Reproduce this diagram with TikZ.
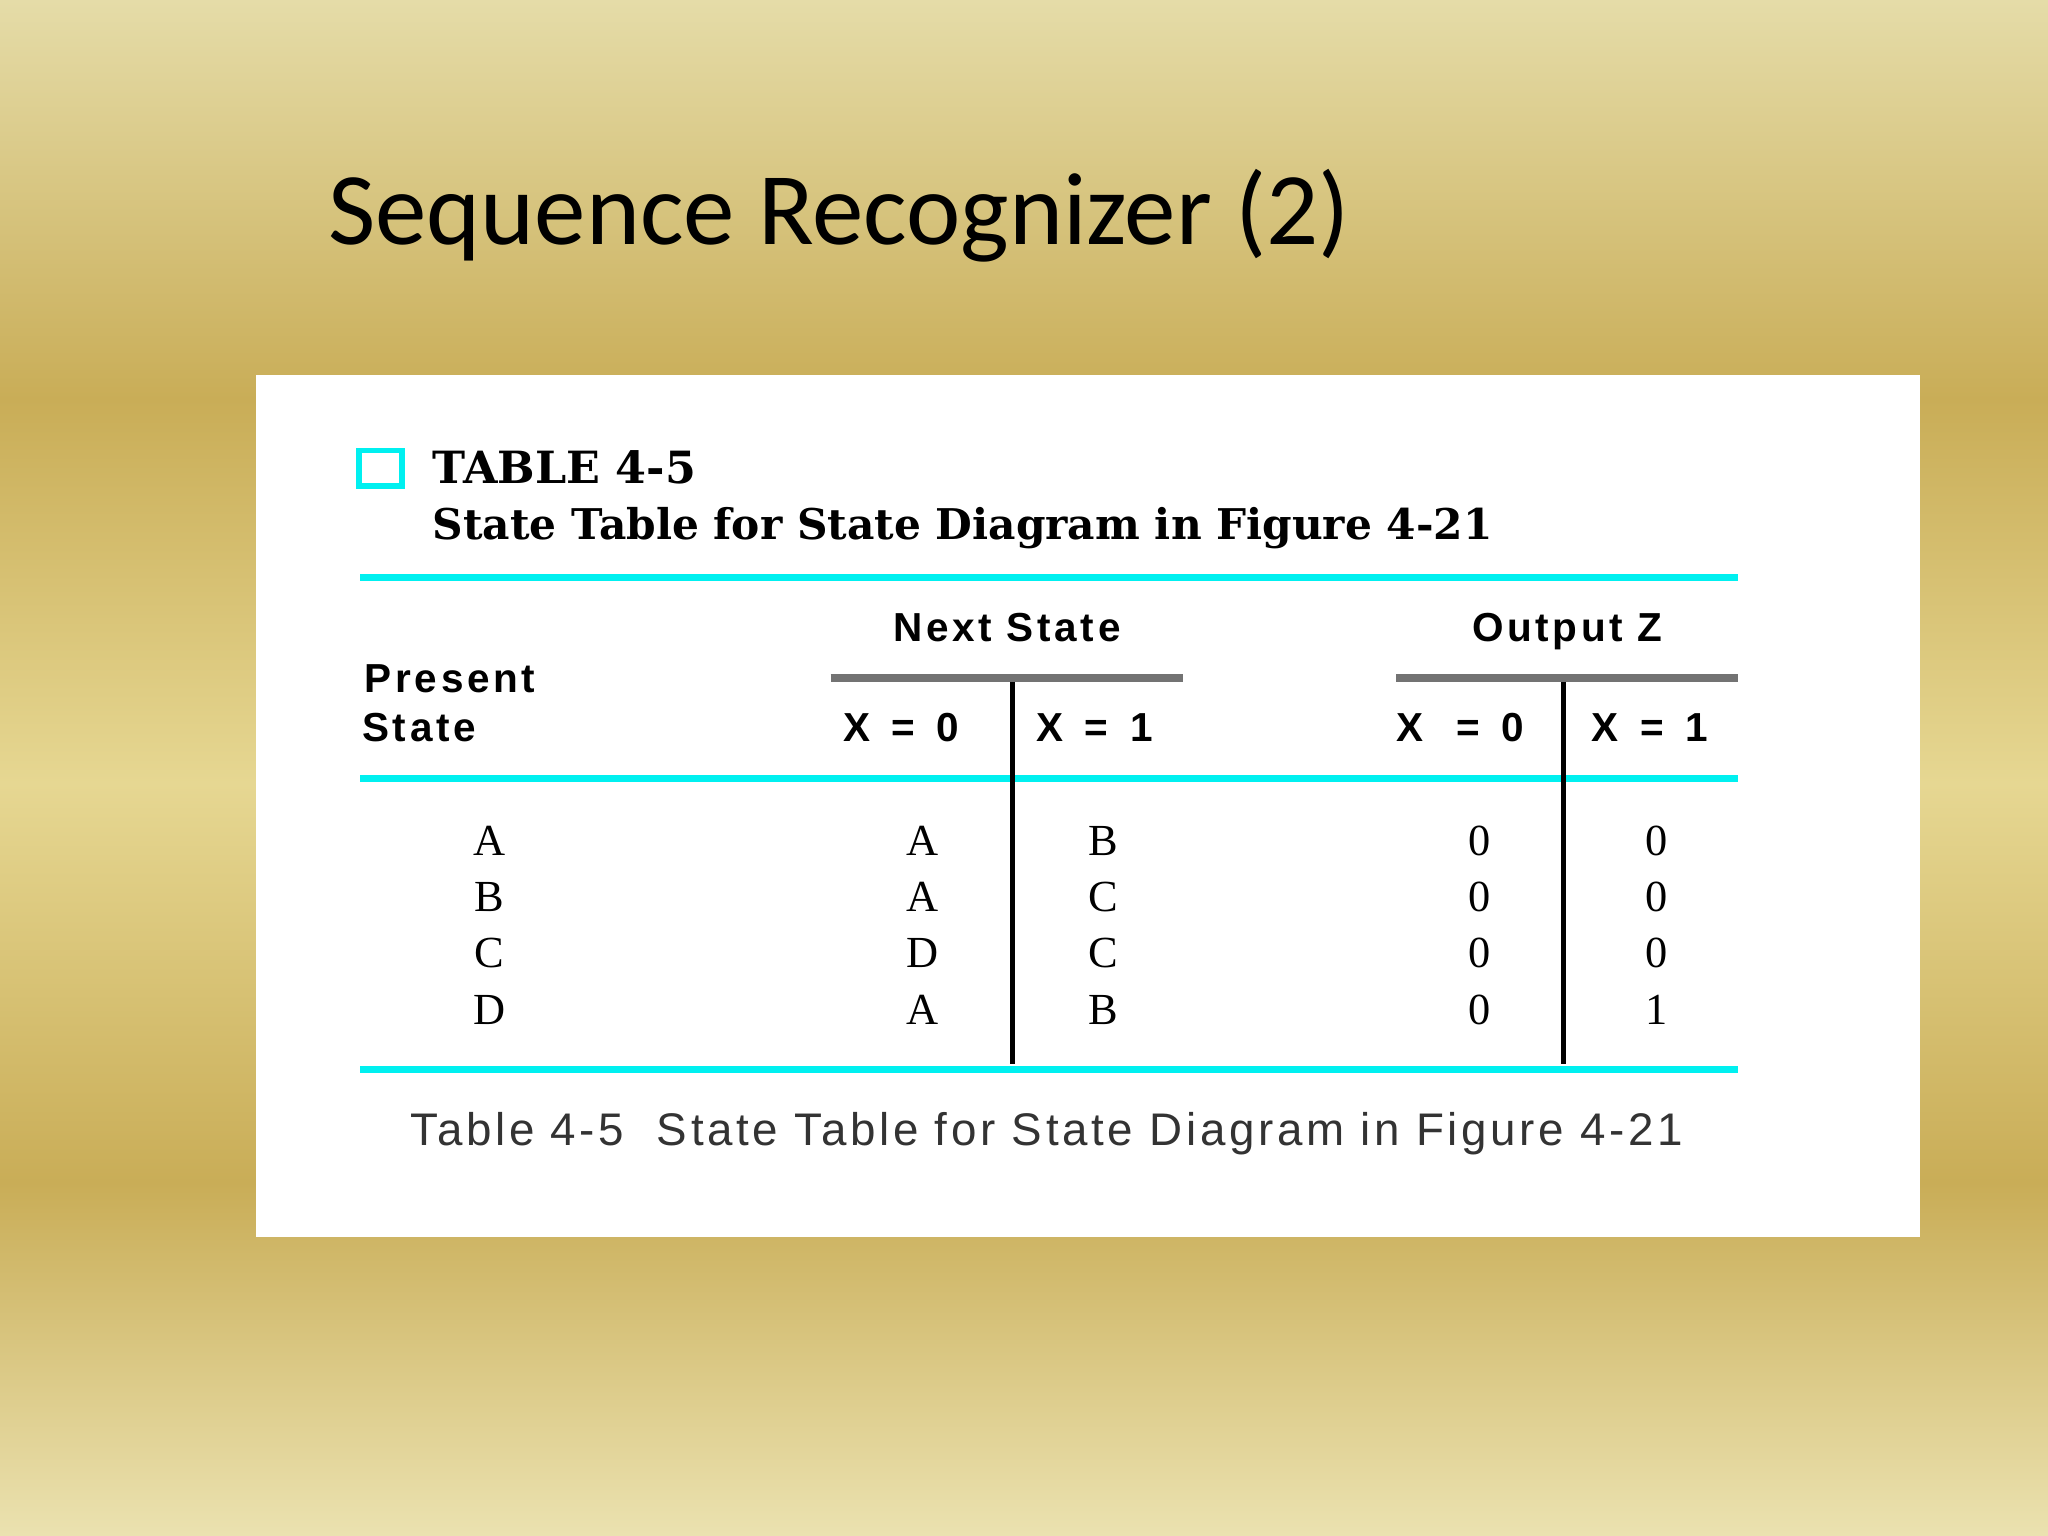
\documentclass[tikz,border=0pt]{standalone}
\usepackage{fontspec}
\setmainfont{Liberation Serif}
\newfontfamily\titlefont{Carlito}
\newfontfamily\hfont[LetterSpace=9]{Liberation Sans}
\newfontfamily\cfont[LetterSpace=8]{Liberation Sans}
\newfontfamily\tfont{DejaVu Serif}
\definecolor{g1}{HTML}{EBE2B0}
\definecolor{g2}{HTML}{C9AD57}
\definecolor{g3}{HTML}{E6D792}
\definecolor{g4}{HTML}{E5DCA8}
\definecolor{cy}{HTML}{00F0F0}
\pgfdeclareverticalshading{gold}{100bp}{
color(0bp)=(g1); color(25bp)=(g1); color(36.5bp)=(g2); color(49.5bp)=(g3); color(62bp)=(g2); color(75bp)=(g4); color(100bp)=(g4)}
\tikzset{
 cyl/.style={cy,line width=2.5pt},
 gl/.style={gray!90!black,line width=3pt},
 bl/.style={black,line width=2pt},
 dat/.style={font=\fontsize{17}{17}\selectfont,anchor=base},
 hd/.style={font=\hfont\bfseries\fontsize{15.5}{15.5}\selectfont,anchor=base},
}
\begin{document}
\begin{tikzpicture}[x=0.5pt,y=-0.5pt]
\shade[shading=gold] (0,0) rectangle (1568,1176);
\useasboundingbox (0,0) rectangle (1568,1176);
\node[anchor=base west,font=\titlefont\fontsize{39.4}{40}\selectfont,inner sep=0] (title) at (251,187) {Sequence Recognizer (2)};
\fill[white] (196,287) rectangle (1470,947);
\draw[cy,line width=2.2pt] (275,345) rectangle (308,372);
\node[anchor=base west,inner sep=0,font=\tfont\bfseries\fontsize{17}{17}\selectfont] (t1) at (331,370) {TABLE 4-5};
\node[anchor=base west,inner sep=0,font=\tfont\bfseries\fontsize{16.2}{16.2}\selectfont] (t2) at (331,413) {State Table for State Diagram in Figure 4-21};
\draw[cyl] (276,442) -- (1331,442);
\draw[cyl] (276,596) -- (1331,596);
\draw[cyl] (276,819) -- (1331,819);
\draw[gl] (636,519) -- (906,519);
\draw[gl] (1069,519) -- (1331,519);
\draw[bl] (775,522) -- (775,815);
\draw[bl] (1197,522) -- (1197,815);
\node[hd] (ns) at (771,491) {Next State};
\node[hd] (oz) at (1200,491) {Output Z};
\node[hd,anchor=base west,inner sep=0] (p1) at (279,530) {Present};
\node[hd,anchor=base west,inner sep=0] (p2) at (277,568) {State};
\node[hd] (h1) at (690,568) {X \,=\, 0};
\node[hd] (h2) at (838,568) {X \,=\, 1};
\node[hd] (h3) at (1118,568) {X \;\,=\, 0};
\node[hd] (h4) at (1263,568) {X \,=\, 1};
\foreach \y/\a/\b/\c/\d/\e in {655/A/A/B/0/0,698/B/A/C/0/0,741/C/D/C/0/0,784/D/A/B/0/1}{
 \node[dat] at (375,\y) {\a};
 \node[dat] at (706,\y) {\b};
 \node[dat] at (845,\y) {\c};
 \node[dat] at (1133,\y) {\d};
 \node[dat] at (1268,\y) {\e};
}
\node[anchor=base west,inner sep=0,font=\cfont\fontsize{17.5}{17.5}\selectfont,text=black!80] (cap) at (314,877) {Table 4-5\ \ State Table for State Diagram in Figure 4-21};
\end{tikzpicture}
\end{document}
